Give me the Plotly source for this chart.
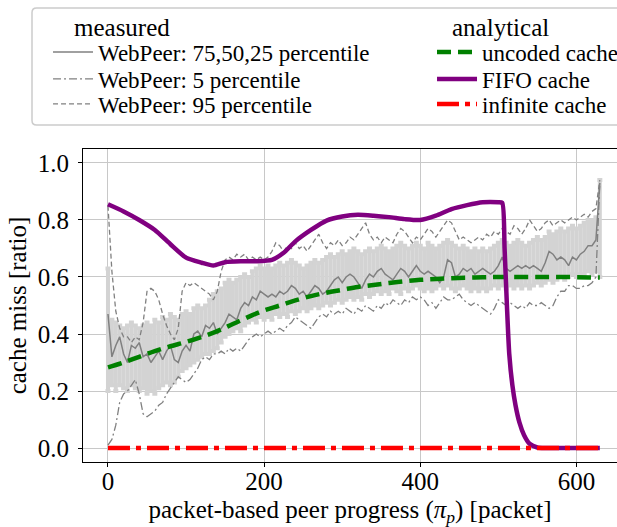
import plotly.graph_objects as go

# ---------------- data ----------------
x_meas = list(range(0, 631, 5))

median = [0.47, 0.32, 0.36, 0.39, 0.33, 0.30, 0.36, 0.35, 0.37, 0.32,
          0.33, 0.30, 0.32, 0.34, 0.31, 0.34, 0.36, 0.31, 0.30, 0.34,
          0.36, 0.34, 0.40, 0.41, 0.39, 0.43, 0.42, 0.44, 0.40, 0.42,
          0.44, 0.47, 0.46, 0.45, 0.49, 0.51, 0.50, 0.53, 0.52, 0.55,
          0.54, 0.53, 0.54, 0.53, 0.55, 0.54, 0.55, 0.57, 0.56, 0.54,
          0.55, 0.53, 0.55, 0.57, 0.56, 0.54, 0.55, 0.57, 0.59, 0.60,
          0.58, 0.60, 0.61, 0.60, 0.58, 0.56, 0.59, 0.61, 0.60, 0.62,
          0.63, 0.61, 0.60, 0.59, 0.61, 0.63, 0.62, 0.60, 0.62, 0.64,
          0.62, 0.61, 0.62, 0.61, 0.60, 0.58, 0.60, 0.66, 0.65, 0.60,
          0.61, 0.63, 0.62, 0.63, 0.61, 0.62, 0.63, 0.62, 0.61, 0.62,
          0.64, 0.67, 0.63, 0.62, 0.63, 0.64, 0.63, 0.64, 0.63, 0.64,
          0.63, 0.62, 0.65, 0.69, 0.68, 0.66, 0.67, 0.66, 0.64, 0.67,
          0.66, 0.68, 0.69, 0.71, 0.71, 0.73, 0.93]

p25 = [0.20, 0.22, 0.20, 0.22, 0.21, 0.20, 0.22, 0.21, 0.20, 0.21,
       0.19, 0.20, 0.19, 0.21, 0.22, 0.23, 0.22, 0.23, 0.25, 0.27,
       0.28, 0.29, 0.30, 0.31, 0.32, 0.33, 0.33, 0.34, 0.35, 0.37,
       0.39, 0.40, 0.41, 0.42, 0.41, 0.43, 0.44, 0.45, 0.44, 0.46,
       0.45, 0.46, 0.45, 0.47, 0.46, 0.47, 0.46, 0.48, 0.47, 0.48,
       0.49, 0.48, 0.49, 0.50, 0.49, 0.50, 0.51, 0.50, 0.51, 0.52,
       0.51, 0.52, 0.53, 0.52, 0.53, 0.52, 0.54, 0.53, 0.54, 0.55,
       0.54, 0.55, 0.54, 0.56, 0.55, 0.54, 0.56, 0.55, 0.56, 0.57,
       0.56, 0.55, 0.56, 0.55, 0.56, 0.57, 0.56, 0.57, 0.56, 0.55,
       0.56, 0.57, 0.56, 0.55, 0.56, 0.55, 0.56, 0.55, 0.56, 0.57,
       0.56, 0.57, 0.56, 0.57, 0.56, 0.57, 0.56, 0.57, 0.56, 0.57,
       0.58, 0.57, 0.58, 0.59, 0.58, 0.59, 0.60, 0.59, 0.60, 0.61,
       0.60, 0.61, 0.61, 0.62, 0.61, 0.62, 0.60]

p75 = [0.63, 0.45, 0.44, 0.43, 0.42, 0.43, 0.44, 0.43, 0.42, 0.43,
       0.44, 0.43, 0.45, 0.44, 0.46, 0.45, 0.47, 0.46, 0.45, 0.47,
       0.48, 0.47, 0.49, 0.50, 0.49, 0.50, 0.52, 0.54, 0.55, 0.56,
       0.58, 0.59, 0.58, 0.59, 0.60, 0.61, 0.60, 0.62, 0.63, 0.64,
       0.63, 0.64, 0.63, 0.64, 0.65, 0.64, 0.65, 0.66, 0.65, 0.64,
       0.63, 0.64, 0.65, 0.66, 0.65, 0.66, 0.67, 0.68, 0.67, 0.68,
       0.69, 0.68, 0.69, 0.70, 0.69, 0.68, 0.69, 0.70, 0.69, 0.70,
       0.71, 0.70, 0.69, 0.70, 0.71, 0.72, 0.71, 0.70, 0.71, 0.72,
       0.71, 0.70, 0.72, 0.71, 0.70, 0.71, 0.72, 0.73, 0.72, 0.71,
       0.70, 0.71, 0.70, 0.69, 0.70, 0.69, 0.70, 0.69, 0.70, 0.71,
       0.72, 0.73, 0.72, 0.71, 0.72, 0.73, 0.72, 0.71, 0.72, 0.73,
       0.74, 0.73, 0.74, 0.76, 0.75, 0.76, 0.77, 0.76, 0.77, 0.78,
       0.77, 0.78, 0.79, 0.80, 0.80, 0.81, 0.94]

p5 = [0.01, 0.03, 0.08, 0.16, 0.19, 0.20, 0.22, 0.24, 0.19, 0.12,
      0.11, 0.12, 0.13, 0.15, 0.16, 0.19, 0.21, 0.23, 0.25, 0.24,
      0.23, 0.24, 0.26, 0.28, 0.31, 0.32, 0.31, 0.33, 0.33, 0.34,
      0.33, 0.35, 0.34, 0.35, 0.34, 0.36, 0.38, 0.39, 0.40, 0.39,
      0.40, 0.41, 0.40, 0.41, 0.42, 0.41, 0.43, 0.44, 0.46, 0.45,
      0.44, 0.43, 0.42, 0.44, 0.46, 0.47, 0.46, 0.48, 0.47, 0.48,
      0.47, 0.49, 0.48, 0.47, 0.49, 0.48, 0.50, 0.49, 0.48, 0.50,
      0.49, 0.51, 0.50, 0.52, 0.51, 0.50, 0.52, 0.51, 0.53, 0.52,
      0.53, 0.52, 0.50, 0.51, 0.49, 0.51, 0.53, 0.52, 0.52, 0.53,
      0.54, 0.52, 0.51, 0.50, 0.51, 0.50, 0.49, 0.48, 0.47, 0.49,
      0.52, 0.51, 0.50, 0.51, 0.50, 0.49, 0.50, 0.49, 0.51, 0.50,
      0.50, 0.51, 0.50, 0.49, 0.50, 0.53, 0.55, 0.55, 0.57, 0.57,
      0.56, 0.56, 0.57, 0.57, 0.58, 0.60, 0.93]

p95 = [0.85, 0.62, 0.48, 0.42, 0.39, 0.39, 0.37, 0.39, 0.38, 0.44,
       0.55, 0.56, 0.55, 0.52, 0.47, 0.43, 0.40, 0.38, 0.42, 0.55,
       0.58, 0.57, 0.58, 0.57, 0.56, 0.55, 0.54, 0.52, 0.55, 0.62,
       0.66, 0.67, 0.66, 0.68, 0.67, 0.68, 0.66, 0.67, 0.66, 0.67,
       0.66, 0.67, 0.69, 0.72, 0.71, 0.69, 0.71, 0.70, 0.72, 0.70,
       0.71, 0.69, 0.71, 0.73, 0.75, 0.72, 0.70, 0.72, 0.71, 0.73,
       0.71, 0.72, 0.74, 0.73, 0.75, 0.77, 0.79, 0.75, 0.73, 0.74,
       0.72, 0.74, 0.73, 0.72, 0.75, 0.77, 0.76, 0.74, 0.72, 0.74,
       0.73, 0.75, 0.77, 0.76, 0.74, 0.76, 0.78, 0.80, 0.79, 0.76,
       0.73, 0.74, 0.73, 0.72, 0.73, 0.74, 0.73, 0.75, 0.74, 0.76,
       0.75, 0.77, 0.76, 0.75, 0.78, 0.77, 0.75, 0.77, 0.80, 0.78,
       0.76, 0.77, 0.79, 0.80, 0.78, 0.79, 0.80, 0.79, 0.80, 0.81,
       0.80, 0.81, 0.82, 0.81, 0.83, 0.84, 0.94]

x_uncoded = [0, 20, 40, 60, 80, 100, 120, 140, 160, 180, 200, 220, 240, 260,
             280, 300, 320, 340, 360, 380, 400, 420, 440, 460, 480, 500,
             540, 580, 630]
uncoded = [0.283, 0.300, 0.320, 0.340, 0.357, 0.372, 0.390, 0.410, 0.435,
           0.460, 0.483, 0.500, 0.518, 0.533, 0.545, 0.555, 0.565, 0.572,
           0.579, 0.585, 0.590, 0.593, 0.596, 0.598, 0.599, 0.600, 0.600,
           0.600, 0.598]

x_fifo = [0, 20, 40, 60, 80, 100, 120, 135, 150, 170, 190, 210, 225, 240,
          260, 280, 300, 320, 340, 360, 380, 400, 420, 440, 460, 480, 500,
          505, 508, 511, 514, 518, 522, 527, 533, 540, 550, 560, 590, 630]
fifo = [0.855, 0.830, 0.800, 0.765, 0.715, 0.668, 0.650, 0.640, 0.652,
        0.655, 0.655, 0.660, 0.685, 0.725, 0.765, 0.798, 0.812, 0.818,
        0.815, 0.810, 0.803, 0.800, 0.815, 0.838, 0.852, 0.862, 0.862,
        0.860, 0.700, 0.500, 0.330, 0.220, 0.150, 0.090, 0.045, 0.015,
        0.002, 0.0, 0.0, 0.0]

x_inf = [0, 630]
infinite = [0.0, 0.0]

x_ticks = [0, 200, 400, 600]
y_ticks = [0.0, 0.2, 0.4, 0.6, 0.8, 1.0]

FONT = "Liberation Serif"

err_plus = [round(a - b, 3) for a, b in zip(p75, median)]
err_minus = [round(b - a, 3) for a, b in zip(p25, median)]

fig = go.Figure()

# error bars (25/75 percentile)
fig.add_trace(go.Scatter(
    x=x_meas, y=median, mode="markers", marker=dict(size=0.1, color="#d3d3d3"),
    error_y=dict(type="data", array=err_plus, arrayminus=err_minus,
                 color="#d3d3d3", thickness=4, width=2.5),
    showlegend=False, hoverinfo="skip"))

fig.add_trace(go.Scatter(
    x=x_meas, y=median, mode="lines", name="WebPeer: 75,50,25 percentile",
    line=dict(color="#808080", width=1.5), legend="legend"))
fig.add_trace(go.Scatter(
    x=x_meas, y=p5, mode="lines", name="WebPeer: 5 percentile",
    line=dict(color="#808080", width=1.3, dash="8px,3px,2px,3px"), legend="legend2"))
fig.add_trace(go.Scatter(
    x=x_meas, y=p95, mode="lines", name="WebPeer: 95 percentile",
    line=dict(color="#808080", width=1.3, dash="5px,3px"), legend="legend3"))

fig.add_trace(go.Scatter(
    x=x_uncoded, y=uncoded, mode="lines", name="uncoded cache",
    line=dict(color="#008000", width=4.5, dash="14px,7px", shape="spline"),
    legend="legend4"))
fig.add_trace(go.Scatter(
    x=x_fifo, y=fifo, mode="lines", name="FIFO cache",
    line=dict(color="#800080", width=4.5, shape="spline", smoothing=0.6),
    legend="legend5"))
fig.add_trace(go.Scatter(
    x=x_inf, y=infinite, mode="lines", name="infinite cache",
    line=dict(color="#ff0000", width=4.5, dash="22px,6px,5px,6px"),
    legend="legend6"))

# legend frame (rounded rectangle in paper coordinates)
x0, x1, y0, y1 = -0.0955, 1.01, 1.0767, 1.4505
rx, ry = 0.0085, 0.0145
frame = (f"M {x0 + rx},{y0} L {x1 - rx},{y0} Q {x1},{y0} {x1},{y0 + ry} "
         f"L {x1},{y1 - ry} Q {x1},{y1} {x1 - rx},{y1} "
         f"L {x0 + rx},{y1} Q {x0},{y1} {x0},{y1 - ry} "
         f"L {x0},{y0 + ry} Q {x0},{y0} {x0 + rx},{y0} Z")
fig.add_shape(type="path", xref="paper", yref="paper", path=frame,
              line=dict(color="#cccccc", width=1.5), fillcolor="white",
              layer="below")

# legend group titles
fig.add_annotation(text="measured", xref="paper", yref="paper",
                   x=0.073, y=1.3866, xanchor="center", yanchor="middle",
                   showarrow=False, font=dict(family=FONT, size=25))
fig.add_annotation(text="analytical", xref="paper", yref="paper",
                   x=0.781, y=1.3866, xanchor="center", yanchor="middle",
                   showarrow=False, font=dict(family=FONT, size=25))


def leg(x, y):
    return dict(bgcolor="rgba(0,0,0,0)", borderwidth=0,
                font=dict(family=FONT, size=23, color="#000000"),
                yanchor="middle", xanchor="left", itemwidth=40, x=x, y=y)


row_y = [1.3099, 1.2236, 1.1438]
col_x = [-0.0655, 0.6536]

fig.update_layout(
    width=617, height=527,
    margin=dict(l=83, r=0, t=149, b=65, pad=0, autoexpand=False),
    plot_bgcolor="white", paper_bgcolor="white",
    font=dict(family=FONT, size=25, color="#000000"),
    legend=leg(col_x[0], row_y[0]),
    legend2=leg(col_x[0], row_y[1]),
    legend3=leg(col_x[0], row_y[2]),
    legend4=leg(col_x[1], row_y[0]),
    legend5=leg(col_x[1], row_y[1]),
    legend6=leg(col_x[1], row_y[2]),
    xaxis=dict(range=[-32, 652], tickvals=x_ticks, ticks="outside", ticklen=4,
               tickcolor="#000000", showline=True, linecolor="#000000",
               linewidth=1, mirror=True, showgrid=True, gridcolor="#c8c8c8",
               gridwidth=1, zeroline=False, ticklabelstandoff=-7,
               automargin=False,
               title=dict(text="packet-based peer progress (<i>π<sub>p</sub></i>) [packet]",
                          font=dict(family=FONT, size=25), standoff=12),
               tickfont=dict(family=FONT, size=25)),
    yaxis=dict(range=[-0.049, 1.049], tickvals=y_ticks,
               ticktext=[f"{v:.1f}" for v in y_ticks], ticks="outside",
               ticklen=4, tickcolor="#000000", showline=True,
               linecolor="#000000", linewidth=1, mirror=False,
               showgrid=True, gridcolor="#c8c8c8", gridwidth=1,
               zeroline=False, ticklabelstandoff=4, automargin=False,
               title=dict(text="cache miss [ratio]",
                          font=dict(family=FONT, size=25), standoff=4),
               tickfont=dict(family=FONT, size=25)),
)

fig.write_html("out.html")
